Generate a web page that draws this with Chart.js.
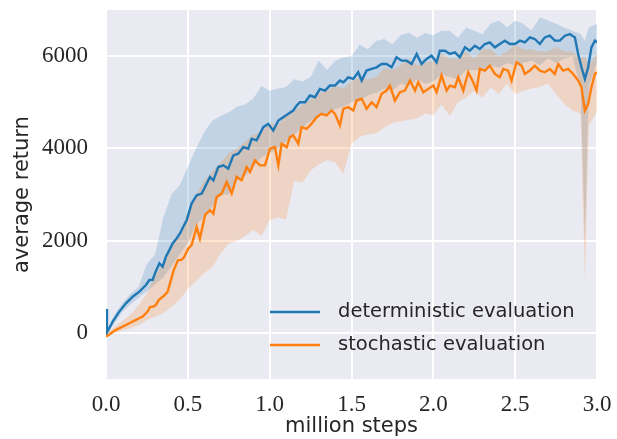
<!DOCTYPE html>
<html>
<head>
<meta charset="utf-8">
<script src="https://cdn.jsdelivr.net/npm/chart.js@4"></script>
<style>
  body { margin: 0; background: #fff; }
  #wrap { width: 617px; height: 439px; }
</style>
</head>
<body>
<div id="wrap"><canvas id="evalChart" width="617" height="439"></canvas></div>
<script>
/* ---- data ---- */
const seriesNames = ["deterministic evaluation", "stochastic evaluation"];

// deterministic evaluation (mean)
const detSteps = [
  0, 0.006, 0.041, 0.081, 0.122, 0.163, 0.204, 0.244, 0.265, 0.285,
  0.299, 0.326, 0.346, 0.366, 0.387, 0.407, 0.430, 0.452, 0.472, 0.493,
  0.523, 0.554, 0.585, 0.605, 0.635, 0.656, 0.686, 0.717, 0.747, 0.778,
  0.808, 0.839, 0.869, 0.890, 0.920, 0.961, 0.991, 1.022, 1.053, 1.083,
  1.114, 1.144, 1.165, 1.185, 1.216, 1.246, 1.277, 1.307, 1.338, 1.368,
  1.399, 1.429, 1.450, 1.480, 1.511, 1.541, 1.562, 1.592, 1.623, 1.653,
  1.684, 1.714, 1.745, 1.775, 1.806, 1.837, 1.867, 1.898, 1.928, 1.959,
  1.989, 2.020, 2.040, 2.071, 2.101, 2.132, 2.162, 2.193, 2.223, 2.254,
  2.284, 2.315, 2.345, 2.376, 2.406, 2.437, 2.468, 2.498, 2.529, 2.559,
  2.590, 2.620, 2.651, 2.681, 2.712, 2.742, 2.773, 2.804, 2.834, 2.865,
  2.885, 2.905, 2.926, 2.946, 2.966, 2.987, 3.0
];
const detMean = [
  520, 10, 245, 461, 641, 785, 893, 1038, 1146, 1150,
  1290, 1506, 1434, 1650, 1794, 1939, 2040, 2155, 2299, 2443,
  2804, 2984, 3020, 3163, 3380, 3308, 3595, 3632, 3560, 3848,
  3885, 4028, 3993, 4209, 4173, 4460, 4533, 4389, 4605, 4676,
  4750, 4821, 4930, 5001, 5001, 5146, 5109, 5290, 5254, 5362,
  5362, 5470, 5433, 5541, 5506, 5650, 5470, 5686, 5722, 5758,
  5830, 5830, 5758, 5974, 5902, 5902, 5830, 6047, 5830, 5939,
  6010, 5866, 6118, 6118, 6046, 6082, 5974, 6190, 6118, 6226,
  6154, 6263, 6298, 6190, 6263, 6335, 6263, 6263, 6335, 6298,
  6406, 6371, 6263, 6406, 6443, 6335, 6335, 6443, 6479, 6406,
  6046, 5758, 5506, 5758, 6190, 6335, 6298
];

// stochastic evaluation (mean)
const stoSteps = [
  0, 0.020, 0.061, 0.102, 0.143, 0.183, 0.224, 0.254, 0.269, 0.289,
  0.305, 0.322, 0.358, 0.377, 0.394, 0.414, 0.440, 0.458, 0.475, 0.503,
  0.523, 0.554, 0.574, 0.605, 0.635, 0.656, 0.676, 0.707, 0.737, 0.768,
  0.798, 0.829, 0.859, 0.880, 0.910, 0.941, 0.971, 1.002, 1.032, 1.053,
  1.073, 1.104, 1.124, 1.144, 1.175, 1.195, 1.226, 1.256, 1.287, 1.317,
  1.348, 1.378, 1.399, 1.429, 1.450, 1.480, 1.511, 1.531, 1.562, 1.592,
  1.623, 1.653, 1.684, 1.714, 1.735, 1.765, 1.796, 1.826, 1.857, 1.888,
  1.908, 1.939, 1.969, 2.000, 2.020, 2.050, 2.081, 2.101, 2.132, 2.152,
  2.183, 2.213, 2.244, 2.264, 2.284, 2.315, 2.345, 2.376, 2.406, 2.427,
  2.457, 2.478, 2.508, 2.539, 2.559, 2.590, 2.620, 2.651, 2.681, 2.712,
  2.742, 2.763, 2.793, 2.824, 2.854, 2.885, 2.905, 2.926, 2.946, 2.966,
  2.987, 3.0
];
const stoMean = [
  -79, -36, 65, 137, 209, 281, 353, 461, 560, 569,
  605, 710, 820, 893, 1110, 1360, 1578, 1578, 1630, 1831,
  1903, 2299, 2047, 2551, 2659, 2588, 2947, 3020, 3271, 3020,
  3380, 3308, 3595, 3487, 3740, 3632, 3632, 3993, 4028, 3632,
  4101, 4028, 4245, 4281, 4101, 4461, 4425, 4533, 4677, 4749,
  4713, 4821, 4749, 4497, 4857, 4893, 4821, 5037, 5074, 4857,
  5001, 4893, 5182, 5254, 5362, 5037, 5218, 5254, 5470, 5254,
  5434, 5218, 5290, 5362, 5218, 5578, 5254, 5362, 5326, 5542,
  5254, 5650, 5434, 5254, 5722, 5686, 5794, 5614, 5542, 5722,
  5686, 5470, 5866, 5794, 5614, 5686, 5794, 5686, 5650, 5722,
  5614, 5830, 5686, 5722, 5614, 5470, 5326, 4821, 4965, 5326,
  5614, 5650
];

// shaded bands, shared step grid
const bandSteps = [
  0, 0.006,
  0.05, 0.10, 0.15, 0.20, 0.25, 0.30, 0.35, 0.40, 0.45, 0.50,
  0.55, 0.60, 0.65, 0.70, 0.75, 0.80, 0.85, 0.90, 0.95, 1.00,
  1.05, 1.10, 1.15, 1.20, 1.25, 1.30, 1.35, 1.40, 1.45, 1.50,
  1.55, 1.60, 1.65, 1.70, 1.75, 1.80, 1.85, 1.90, 1.95, 2.00,
  2.05, 2.10, 2.15, 2.20, 2.25, 2.30, 2.35, 2.40, 2.45, 2.50,
  2.55, 2.60, 2.65, 2.70, 2.75, 2.80, 2.85, 2.90,
  2.926, 2.95, 3.00
];
const detHigh = [
  620, 60,
  380, 650, 850, 1000, 1500, 1700, 2500, 3000, 3200, 3600,
  4000, 4350, 4600, 4700, 4780, 4900, 4950, 5080, 5350, 5250,
  5300, 5330, 5500, 5450, 5550, 5900, 5700, 5900, 5970, 6000,
  6250, 6150, 6330, 6370, 6260, 6450, 6510, 6400, 6500, 6450,
  6550, 6550, 6400, 6620, 6550, 6480, 6700, 6770, 6620, 6770,
  6700, 6550, 6840, 6770, 6700, 6620, 6550, 6480,
  6335, 6620, 6700
];
const detLow = [
  420, -40,
  200, 450, 620, 760, 900, 1050, 1200, 1450, 1700, 1950,
  2350, 2500, 2750, 3000, 3000, 3300, 3400, 3600, 3800, 3900,
  4000, 4150, 4300, 4450, 4600, 4700, 4750, 4850, 4900, 5000,
  5050, 5150, 5200, 5300, 5250, 5400, 5350, 5500, 5400, 5450,
  5600, 5550, 5500, 5700, 5700, 5700, 5800, 5750, 5850, 5800,
  5850, 5900, 5800, 5950, 5850, 5950, 6000, 5300,
  2000, 5350, 5850
];
const stoHigh = [
  -20, -10,
  120, 260, 400, 600, 850, 1250, 1500, 1900, 2100, 2600,
  3000, 3300, 3500, 3700, 3900, 4000, 4150, 4300, 4350, 4550,
  4500, 4700, 4800, 4950, 5050, 5200, 5250, 5350, 5300, 5450,
  5550, 5500, 5550, 5750, 5700, 5800, 5950, 5800, 5850, 5900,
  6050, 5950, 5950, 6100, 5950, 6150, 6150, 6000, 6100, 6250,
  6150, 6150, 6100, 6100, 6200, 6100, 6100, 5950,
  6000, 5800, 6050
];
const stoLow = [
  -100, -90,
  0, 50, 100, 170, 280, 350, 430, 560, 720, 950,
  1120, 1290, 1430, 1720, 1930, 2000, 2100, 2230, 2100, 2440,
  2500, 2450, 3300, 3250, 3520, 3650, 3750, 3700, 3450, 4100,
  4250, 4300, 4320, 4450, 4550, 4580, 4620, 4650, 4750, 4720,
  4950, 4700, 5000, 5100, 5250, 5100, 5320, 5180, 5400, 5180,
  5250, 5300, 5330, 5400, 5180, 4960, 4820, 4750,
  1150, 4500, 4800
];

// axis ticks
const xTicks = [0, 0.5, 1.0, 1.5, 2.0, 2.5, 3.0];
const yTicks = [0, 2000, 4000, 6000];

/* ---- helpers ---- */
const toPoints = (xs, ys) => xs.map((x, i) => ({ x: x, y: ys[i] }));

const BLUE = "#1f77b4";
const ORANGE = "#ff7f0e";

const bandLine = (label, xs, ys, order) => ({
  label, data: toPoints(xs, ys),
  borderWidth: 0, pointRadius: 0, fill: false, order,
  borderColor: "rgba(0,0,0,0)"
});

// プロット領域の背景
const bgPlugin = {
  id: "plotBg",
  beforeDraw(chart) {
    const { ctx, chartArea: a } = chart;
    ctx.save();
    ctx.fillStyle = "#eaeaf2";
    ctx.fillRect(a.left, a.top, a.right - a.left, a.bottom - a.top);
    ctx.restore();
  }
};

// 凡例（プロット内右下、枠なし）
const legendPlugin = {
  id: "insideLegend",
  afterDraw(chart) {
    const { ctx, chartArea: a } = chart;
    const colors = [BLUE, ORANGE];
    ctx.save();
    ctx.font = "19.5px 'DejaVu Sans'";
    ctx.textBaseline = "middle";
    ctx.textAlign = "left";
    seriesNames.forEach((name, i) => {
      const y = a.bottom - 67 + i * 33;
      ctx.beginPath();
      ctx.strokeStyle = colors[i];
      ctx.lineWidth = 2.4;
      ctx.moveTo(a.left + 164, y);
      ctx.lineTo(a.left + 214, y);
      ctx.stroke();
      ctx.fillStyle = "#262626";
      ctx.fillText(name, a.left + 232, y);
    });
    ctx.restore();
  }
};

const ctx = document.getElementById("evalChart").getContext("2d");
new Chart(ctx, {
  type: "line",
  data: {
    datasets: [
      bandLine("detLow", bandSteps, detLow, 3),
      Object.assign(bandLine("detHigh", bandSteps, detHigh, 3), { fill: "-1", backgroundColor: "rgba(31,119,180,0.2)" }),
      bandLine("stoLow", bandSteps, stoLow, 2),
      Object.assign(bandLine("stoHigh", bandSteps, stoHigh, 2), { fill: "-1", backgroundColor: "rgba(255,127,14,0.2)" }),
      {
        label: seriesNames[0], data: toPoints(detSteps, detMean),
        borderColor: BLUE, borderWidth: 2.4, pointRadius: 0, fill: false, order: 1
      },
      {
        label: seriesNames[1], data: toPoints(stoSteps, stoMean),
        borderColor: ORANGE, borderWidth: 2.4, pointRadius: 0, fill: false, order: 0
      }
    ]
  },
  options: {
    responsive: false,
    animation: false,
    layout: { padding: { top: 10, right: 20, left: 0, bottom: 0 } },
    plugins: {
      legend: { display: false },
      tooltip: { enabled: false }
    },
    scales: {
      x: {
        type: "linear",
        min: 0, max: 3,
        afterBuildTicks: s => { s.ticks = xTicks.map(v => ({ value: v })); },
        afterFit: s => { s.height = 60; s.paddingLeft = 0; s.paddingRight = 0; },
        grid: { color: "#ffffff", lineWidth: 2, drawTicks: false },
        border: { display: false },
        ticks: {
          padding: 12,
          color: "#262626",
          maxRotation: 0,
          font: { family: "'Liberation Serif'", size: 23 },
          callback: v => v.toFixed(1)
        },
        title: {
          display: true, text: "million steps", color: "#262626",
          font: { family: "'DejaVu Sans'", size: 21 },
          padding: { top: 0, bottom: 0 }
        }
      },
      y: {
        min: -1000, max: 7000,
        afterBuildTicks: s => { s.ticks = yTicks.map(v => ({ value: v })); },
        afterFit: s => { s.width = 106; s.paddingTop = 0; s.paddingBottom = 0; },
        grid: { color: "#ffffff", lineWidth: 2, drawTicks: false },
        border: { display: false },
        ticks: {
          padding: 18,
          color: "#262626",
          font: { family: "'Liberation Serif'", size: 23 },
          callback: v => String(v)
        },
        title: {
          display: true, text: "average return", color: "#262626",
          font: { family: "'DejaVu Sans'", size: 21 },
          padding: { top: 10, bottom: 0 }
        }
      }
    }
  },
  plugins: [bgPlugin, legendPlugin]
});
</script>
</body>
</html>
